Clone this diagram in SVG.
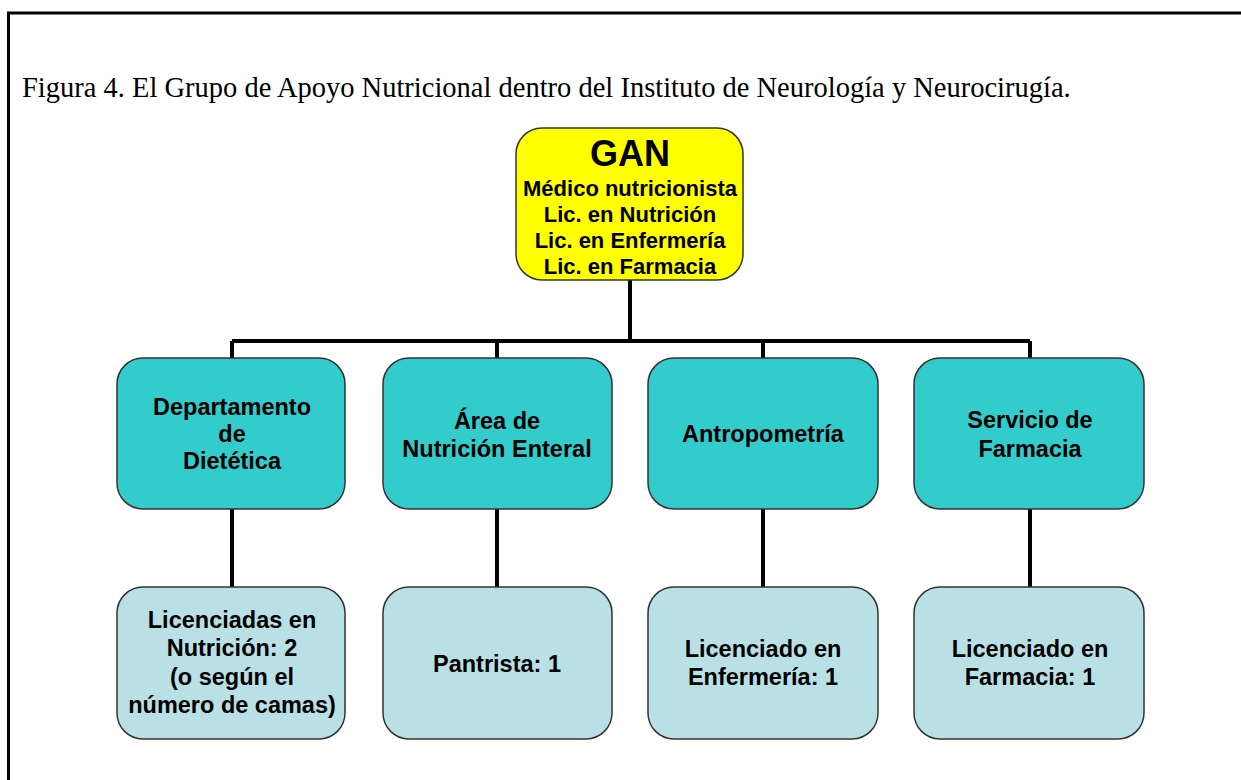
<svg xmlns="http://www.w3.org/2000/svg" width="1241" height="780" viewBox="0 0 1241 780">
<style>
.frame{fill:none;stroke:#000;stroke-width:3}
.title{font-family:"Liberation Serif","Times New Roman",serif;font-size:28.5px;fill:#000}
.lbl{font-family:"Liberation Sans",Arial,sans-serif;font-weight:bold;font-size:23.5px;fill:#000;text-anchor:middle}
.gan{font-size:36px}
.gl{font-size:22px}
.top{fill:#FFFF00;stroke:#333;stroke-width:1.5}
.mid{fill:#33CCCC;stroke:#333;stroke-width:1.5}
.low{fill:#B9E0E4;stroke:#333;stroke-width:1.5}
.conn{fill:none;stroke:#000;stroke-width:4}
</style>
<rect width="1241" height="780" fill="#fff"/>
<path class="frame" d="M8.5,782 V13 H1243"/>
<text class="title" x="22" y="97">Figura 4. El Grupo de Apoyo Nutricional dentro del Instituto de Neurología y Neurocirugía.</text>
<g id="connectors">
<path class="conn" d="M630,280 V341 M232,341 H1030 M232,341 V358 M497,341 V358 M763,341 V358 M1030,341 V358"/>
<path class="conn" d="M232,509 V587 M497,509 V587 M763,509 V587 M1030,509 V587"/>
</g>
<g id="gan">
<rect class="top" x="516" y="128" width="227" height="152" rx="26"/>
<text class="lbl gan" x="630" y="166">GAN</text>
<text class="lbl gl" x="630" y="196">Médico nutricionista</text>
<text class="lbl gl" x="630" y="222">Lic. en Nutrición</text>
<text class="lbl gl" x="630" y="248">Lic. en Enfermería</text>
<text class="lbl gl" x="630" y="274">Lic. en Farmacia</text>
</g>
<g id="dietetica">
<rect class="mid" x="117" y="358" width="228" height="151" rx="26"/>
<text class="lbl" x="232" y="415">Departamento</text>
<text class="lbl" x="232" y="442">de</text>
<text class="lbl" x="232" y="469">Dietética</text>
</g>
<g id="enteral">
<rect class="mid" x="383" y="358" width="229" height="151" rx="26"/>
<text class="lbl" x="497" y="429">Área de</text>
<text class="lbl" x="497" y="457">Nutrición Enteral</text>
</g>
<g id="antropometria">
<rect class="mid" x="648" y="358" width="230" height="151" rx="26"/>
<text class="lbl" x="763" y="442">Antropometría</text>
</g>
<g id="farmacia">
<rect class="mid" x="914" y="358" width="230" height="151" rx="26"/>
<text class="lbl" x="1030" y="428">Servicio de</text>
<text class="lbl" x="1030" y="457">Farmacia</text>
</g>
<g id="lic-nutricion">
<rect class="low" x="117" y="587" width="228" height="152" rx="26"/>
<text class="lbl" x="232" y="628">Licenciadas en</text>
<text class="lbl" x="232" y="656">Nutrición: 2</text>
<text class="lbl" x="232" y="685">(o según el</text>
<text class="lbl" x="232" y="713">número de camas)</text>
</g>
<g id="pantrista">
<rect class="low" x="383" y="587" width="229" height="152" rx="26"/>
<text class="lbl" x="497" y="672">Pantrista: 1</text>
</g>
<g id="lic-enfermeria">
<rect class="low" x="648" y="587" width="230" height="152" rx="26"/>
<text class="lbl" x="763" y="657">Licenciado en</text>
<text class="lbl" x="763" y="685">Enfermería: 1</text>
</g>
<g id="lic-farmacia">
<rect class="low" x="914" y="587" width="230" height="152" rx="26"/>
<text class="lbl" x="1030" y="657">Licenciado en</text>
<text class="lbl" x="1030" y="685">Farmacia: 1</text>
</g>
</svg>
